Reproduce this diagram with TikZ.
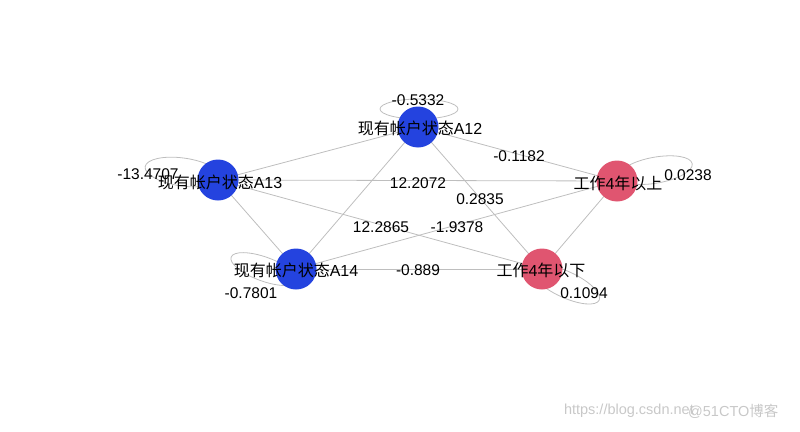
\documentclass[tikz,border=0pt]{standalone}
\usepackage{fontspec}
\usetikzlibrary{backgrounds}
\setmainfont{Liberation Sans}
\newfontfamily\cjk{Noto Sans CJK SC}
\definecolor{nblue}{HTML}{2443DF}
\definecolor{npink}{HTML}{E05570}
\definecolor{egray}{HTML}{BEBEBE}
\definecolor{wm}{HTML}{C8C8C8}
\begin{document}
\begin{tikzpicture}[x=1pt,y=-1pt,
  vert/.style={circle,minimum size=41pt,inner sep=0pt},
  vtext/.style={font=\fontsize{16}{16}\selectfont,inner sep=0pt},
  elabel/.style={font=\fontsize{15.5}{15.5}\selectfont,inner sep=0pt},
  edge/.style={draw=egray,line width=0.8pt},
  wmark/.style={font=\fontsize{14.5}{14.5}\selectfont,text=wm,inner sep=0pt}]
\useasboundingbox (0,0) rectangle (800,431);
% vertices (circles)
\node[vert,fill=nblue] (a12) at (418,127) {};
\node[vert,fill=nblue] (a13) at (218,180) {};
\node[vert,fill=nblue] (a14) at (296,269) {};
\node[vert,fill=npink] (up) at (617,181) {};
\node[vert,fill=npink] (dn) at (542,269) {};
\begin{scope}[on background layer]
% edges
\path[edge] (a12.center) -- (a13.center);
\path[edge] (a12.center) -- (a14.center);
\path[edge] (a12.center) -- (up.center);
\path[edge] (a12.center) -- (dn.center);
\path[edge] (a13.center) -- (a14.center);
\path[edge] (a13.center) -- (up.center);
\path[edge] (a13.center) -- (dn.center);
\path[edge] (a14.center) -- (up.center);
\path[edge] (a14.center) -- (dn.center);
\path[edge] (up.center) -- (dn.center);
% self loops
\path[edge] ([shift={(1,-18)}]a12.center) ellipse [x radius=39pt, y radius=10pt];
\path[edge,rotate around={-8:([shift={(-36,-3)}]a13.center)}] ([shift={(-36,-3)}]a13.center) ellipse [x radius=38pt, y radius=14pt];
\path[edge,rotate around={-20:([shift={(-30,11)}]a14.center)}] ([shift={(-30,11)}]a14.center) ellipse [x radius=35pt, y radius=12pt];
\path[edge,rotate around={10:([shift={(40,-4)}]up.center)}] ([shift={(40,-4)}]up.center) ellipse [x radius=37pt, y radius=13pt];
\path[edge,rotate around={-25:([shift={(28,4)}]dn.center)}] ([shift={(28,4)}]dn.center) ellipse [x radius=37pt, y radius=13pt];
\end{scope}
% vertex labels
\node[vtext] (t12) at (420,128) {{\cjk 现有帐户状态}A12};
\node[vtext] (t13) at (220,182) {{\cjk 现有帐户状态}A13};
\node[vtext] (t14) at (296,270) {{\cjk 现有帐户状态}A14};
\node[vtext] (tup) at (618,183) {{\cjk 工作}4{\cjk 年以上}};
\node[vtext] (tdn) at (541,270) {{\cjk 工作}4{\cjk 年以下}};
% edge labels
\node[elabel] (l1) at (418,100) {-0.5332};
\node[elabel] (l2) at (148,174) {-13.4707};
\node[elabel] (l3) at (251,293) {-0.7801};
\node[elabel] (l4) at (688,175) {0.0238};
\node[elabel] (l5) at (584,293) {0.1094};
\node[elabel] (l6) at (519,156) {-0.1182};
\node[elabel] (l7) at (418,183) {12.2072};
\node[elabel] (l8) at (480,199) {0.2835};
\node[elabel] (l9) at (381,227) {12.2865};
\node[elabel] (l10) at (457,227) {-1.9378};
\node[elabel] (l11) at (418,270) {-0.889};
% watermark
\node[wmark,anchor=east] (w1) at (694,411) {https://blog.csdn.net};
\node[wmark,anchor=west] (w2) at (688,411) {@51CTO{\cjk 博客}};
\end{tikzpicture}
\end{document}
